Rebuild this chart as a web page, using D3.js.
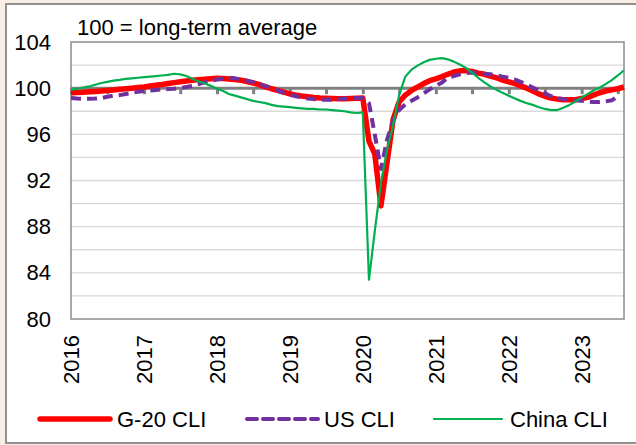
<!DOCTYPE html>
<html><head><meta charset="utf-8">
<script src="https://cdn.jsdelivr.net/npm/d3@7"></script>
<style>
body{margin:0;background:#f8eee4;}
svg{display:block;font-family:"Liberation Sans",Arial,sans-serif;}
</style></head>
<body><svg id="c" width="636" height="445"></svg>
<script>
const startMonth = "2016-01";
const yearLabels = ["2016","2017","2018","2019","2020","2021","2022","2023"];
const yTicks = [80,84,88,92,96,100,104];
const seriesNames = ["G-20 CLI","US CLI","China CLI"];
const g20 = [
 99.6,99.62,99.65,99.68,99.72,99.76,99.8,99.85,99.9,99.95,100.0,100.05,
 100.1,100.18,100.25,100.32,100.4,100.48,100.55,100.62,100.68,100.74,100.78,100.82,
 100.85,100.84,100.8,100.75,100.68,100.58,100.45,100.3,100.12,99.95,99.8,99.65,
 99.5,99.4,99.32,99.26,99.2,99.15,99.12,99.1,99.08,99.08,99.1,99.12,
 99.15,95.4,94.3,89.8,93.5,97.3,98.8,99.4,99.8,100.1,100.4,100.65,
 100.8,101.0,101.2,101.4,101.5,101.5,101.45,101.3,101.2,101.05,100.9,100.7,
 100.55,100.4,100.2,100.0,99.75,99.5,99.3,99.15,99.05,99.0,99.0,99.0,
 99.1,99.2,99.4,99.6,99.75,99.85,99.95,100.1];
const us = [
 99.15,99.1,99.08,99.08,99.1,99.15,99.25,99.35,99.4,99.5,99.6,99.68,
 99.75,99.8,99.85,99.9,99.92,99.95,100.0,100.1,100.2,100.35,100.5,100.65,
 100.75,100.85,100.9,100.85,100.75,100.65,100.5,100.35,100.2,100.0,99.8,99.6,
 99.45,99.3,99.2,99.1,99.05,99.0,99.0,99.0,99.05,99.1,99.1,99.15,
 99.15,98.7,96.0,93.0,95.5,97.2,98.1,98.6,98.9,99.2,99.55,99.9,
 100.2,100.5,100.9,101.05,101.2,101.3,101.35,101.3,101.25,101.2,101.1,101.0,
 100.9,100.75,100.55,100.3,100.05,99.8,99.55,99.3,99.15,99.05,99.0,98.95,
 98.9,98.85,98.8,98.8,98.85,98.95,99.3,null];
const china = [
 99.85,99.95,100.05,100.15,100.3,100.45,100.55,100.65,100.72,100.8,100.85,100.9,
 100.95,101.0,101.05,101.1,101.15,101.25,101.2,101.05,100.8,100.6,100.4,100.2,
 99.95,99.75,99.5,99.35,99.2,99.05,98.9,98.8,98.7,98.55,98.45,98.4,
 98.35,98.3,98.25,98.2,98.2,98.15,98.15,98.1,98.05,98.0,97.9,97.85,
 97.9,83.4,87.6,91.8,94.6,96.8,99.4,101.0,101.6,101.95,102.25,102.45,
 102.55,102.6,102.5,102.3,102.05,101.75,101.35,100.9,100.5,100.15,99.85,99.6,
 99.35,99.1,98.9,98.7,98.55,98.35,98.2,98.1,98.1,98.3,98.55,98.85,
 99.2,99.5,99.8,100.05,100.35,100.7,101.1,101.55];

const svg = d3.select("#c");
// panel
svg.append("rect").attr("x",6).attr("y",4).attr("width",640).attr("height",439)
  .attr("fill","#fff").attr("stroke","#909090").attr("stroke-width",2);

const L=71,R=624,T=42,B=319;
const t0 = d3.timeParse("%Y-%m")(startMonth);
const dates = g20.map((d,i)=>d3.timeMonth.offset(t0,i));
const x = d3.scaleTime().domain([t0, dates[dates.length-1]]).range([L,R]);
const y = d3.scaleLinear().domain([80,104]).range([B,T]);

// gridlines every 2
const grid = d3.range(82,104,2).filter(v=>v!==100);
svg.append("g").selectAll("line").data(grid).join("line")
  .attr("x1",L).attr("x2",R).attr("y1",d=>y(d)).attr("y2",d=>y(d))
  .attr("stroke","#d9d9d9").attr("stroke-width",1.3);

// plot border
svg.append("rect").attr("x",L).attr("y",T).attr("width",R-L).attr("height",B-T)
  .attr("fill","none").attr("stroke","#8c8c8c").attr("stroke-width",1.5);

// y axis labels
const yAxis = d3.axisLeft(y).tickValues(yTicks).tickSize(0).tickPadding(20);
const ya = svg.append("g").attr("transform",`translate(${L},0)`).call(yAxis);
ya.select(".domain").remove();
ya.selectAll("text").attr("font-size",22).attr("fill","#000")
  .attr("font-family","Liberation Sans, Arial, sans-serif");

// baseline at 100 with half-year ticks
const halfYears = d3.timeMonth.every(6).range(t0, d3.timeMonth.offset(dates[dates.length-1],1));
const xAxis = d3.axisBottom(x).tickValues(halfYears).tickSize(6).tickFormat("");
const xa = svg.append("g").attr("transform",`translate(0,${y(100)})`).call(xAxis);
xa.select(".domain").attr("stroke","#808080").attr("stroke-width",3).attr("d",`M${L},0H${R}`);
xa.selectAll(".tick line").attr("stroke","#808080").attr("stroke-width",3);

// year labels rotated
const years = yearLabels.map(s=>d3.timeParse("%Y")(s));
svg.append("g").selectAll("text").data(years).join("text")
  .attr("transform",d=>`translate(${x(d)+8},${B+16}) rotate(-90)`)
  .attr("text-anchor","end").attr("font-size",22).attr("fill","#000")
  .text((d,i)=>yearLabels[i]);

// title
svg.append("text").attr("x",77).attr("y",35).attr("font-size",22).attr("fill","#000")
  .text("100 = long-term average");

const line = d3.line().defined(d=>d[1]!=null).x(d=>x(d[0])).y(d=>y(d[1]));
const mk = arr => arr.map((v,i)=>[dates[i],v]);
svg.append("path").datum(mk(g20)).attr("d",line).attr("fill","none")
  .attr("stroke","#ff0000").attr("stroke-width",5.5).attr("stroke-linejoin","round");
svg.append("path").datum(mk(us)).attr("d",line).attr("fill","none")
  .attr("stroke","#7030a0").attr("stroke-width",4).attr("stroke-dasharray","10,6")
  .attr("stroke-linejoin","round");
svg.append("path").datum(mk(china)).attr("d",line).attr("fill","none")
  .attr("stroke","#00b050").attr("stroke-width",2.2).attr("stroke-linejoin","round");

// legend
const ly = 419;
const leg = [
  {x1:40,x2:110,tx:117,c:"#ff0000",w:5.5,dash:null},
  {x1:247,x2:318,tx:324,c:"#7030a0",w:4,dash:"10,6"},
  {x1:434,x2:502,tx:510,c:"#00b050",w:2.2,dash:null}];
leg.forEach((l,i)=>{
  svg.append("line").attr("x1",l.x1).attr("x2",l.x2).attr("y1",ly).attr("y2",ly)
    .attr("stroke",l.c).attr("stroke-width",l.w).attr("stroke-linecap","round")
    .attr("stroke-dasharray",l.dash);
  svg.append("text").attr("x",l.tx).attr("y",ly+8).attr("font-size",22).attr("fill","#000")
    .text(seriesNames[i]);
});
</script></body></html>
